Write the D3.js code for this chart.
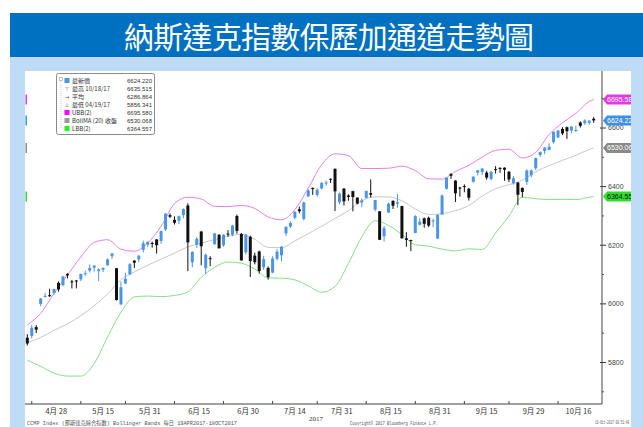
<!DOCTYPE html>
<html>
<head>
<meta charset="utf-8">
<script src="https://cdn.jsdelivr.net/npm/d3@7"></script>
<style>
  body { margin: 0; background: #fff; }
  svg { display: block; }
</style>
</head>
<body>
<div id="chart"></div>
<script>
// chart size
var svgWidth = 643;
var svgHeight = 427;

// trading calendar 19 Apr - 18 Oct 2017 (weekdays minus US market holidays)
var holidays = ["2017-05-29", "2017-07-04", "2017-09-04"];
var fmt = d3.timeFormat("%Y-%m-%d");
var dates = d3.timeDay.range(new Date(2017, 3, 19), new Date(2017, 9, 19))
  .filter(d => d.getDay() > 0 && d.getDay() < 6 && holidays.indexOf(fmt(d)) < 0)
  .map(fmt);

// daily OHLC
var opens = [5883,5889,5919,5998,6024,6028,6035,6070,6062,6100,
  6075,6078,6082,6101,6112,6122,6110,6115,6130,6161,
  6120,5996,6068,6100,6146,6150,6182,6200,6206,6218,
  6213,6252,6301,6285,6282,6301,6334,6140,6200,6245,
  6120,6154,6202,6234,6198,6238,6234,6298,6237,6174,
  6227,6163,6177,6123,6121,6105,6152,6164,6239,6262,
  6292,6321,6288,6365,6394,6370,6392,6412,6425,6459,
  6345,6392,6368,6383,6361,6344,6360,6376,6320,6314,
  6229,6310,6350,6340,6332,6222,6216,6240,6268,6290,
  6292,6280,6221,6303,6391,6441,6419,6395,6400,6391,
  6415,6446,6448,6446,6424,6458,6462,6463,6449,6410,
  6412,6394,6414,6437,6461,6506,6520,6523,6550,6566,
  6595,6601,6590,6588,6617,6615,6616,6630];
var highs = [5895,5926,5926,6018,6036,6050,6050,6075,6094,6103,
  6080,6080,6101,6112,6133,6130,6120,6122,6154,6173,
  6120,6075,6104,6137,6147,6164,6214,6211,6211,6219,
  6248,6308,6307,6297,6299,6324,6341,6178,6226,6247,
  6170,6161,6240,6236,6236,6250,6268,6303,6240,6236,
  6231,6173,6180,6162,6126,6161,6185,6196,6263,6280,
  6315,6330,6347,6389,6395,6392,6414,6419,6426,6460,
  6378,6392,6372,6384,6361,6358,6384,6423,6353,6315,
  6264,6344,6351,6373,6333,6243,6217,6301,6290,6293,
  6296,6289,6304,6371,6430,6444,6420,6398,6406,6394,
  6433,6455,6461,6452,6452,6468,6465,6464,6452,6434,
  6414,6395,6457,6457,6497,6518,6533,6546,6586,6590,
  6601,6603,6604,6606,6621,6628,6624,6635.5];
var lows = [5856.3,5880,5899,5990,6020,6022,6030,6040,6058,6085,
  6051,6051,6076,6094,6105,6108,6076,6107,6129,6152,
  6010,5996,6066,6096,6121,6141,6174,6193,6190,6170,
  6203,6247,6291,6269,6270,6290,6110,6123,6190,6130,
  6100,6127,6200,6187,6193,6227,6229,6238,6146,6167,
  6090,6133,6102,6114,6081,6103,6147,6143,6230,6257,
  6287,6307,6283,6363,6370,6364,6389,6401,6411,6315,
  6338,6334,6350,6314,6338,6328,6357,6361,6314,6216,
  6211,6309,6322,6327,6221,6193,6178,6240,6266,6258,
  6260,6260,6220,6303,6388,6425,6346,6364,6379,6351,
  6412,6436,6438,6422,6420,6443,6445,6418,6414,6405,
  6335,6362,6404,6430,6455,6500,6509,6523,6545,6565,
  6574,6561,6580,6585,6600,6609,6609,6616];
var closes = [5863.0,5916.8,5910.5,6016.7,6025.5,6025.2,6048.9,6047.6,6091.6,6095.4,
  6072.6,6075.3,6100.8,6102.7,6120.6,6129.1,6116.0,6121.2,6149.7,6169.9,
  6011.2,6055.1,6083.7,6133.6,6138.7,6163.0,6205.3,6210.2,6203.2,6198.5,
  6246.8,6305.8,6295.7,6275.1,6297.4,6321.8,6207.9,6175.5,6220.4,6194.9,
  6165.5,6151.8,6239.0,6188.0,6234.0,6236.7,6265.3,6247.2,6146.6,6234.4,
  6144.4,6140.4,6110.1,6150.9,6089.5,6153.1,6176.4,6193.3,6261.2,6274.4,
  6312.5,6314.4,6344.3,6385.0,6390.0,6387.8,6410.8,6412.2,6422.8,6382.2,
  6374.7,6348.1,6362.9,6362.7,6340.3,6351.6,6383.8,6370.5,6352.3,6216.9,
  6256.6,6340.2,6333.0,6345.1,6221.9,6216.5,6213.1,6297.5,6278.4,6271.3,
  6265.6,6283.0,6301.9,6368.3,6428.7,6435.3,6375.6,6393.3,6397.9,6360.2,
  6432.3,6454.3,6460.2,6429.1,6448.5,6454.6,6461.3,6456.0,6422.7,6426.9,
  6370.6,6380.2,6453.3,6453.5,6496.0,6516.7,6531.7,6534.6,6585.4,6590.2,
  6579.7,6587.3,6603.6,6591.5,6605.8,6624.0,6623.7,6624.2];

// bollinger band lines, read every third session
var bandDates = ["2017-04-19","2017-04-24","2017-04-27","2017-05-02","2017-05-05","2017-05-10",
  "2017-05-15","2017-05-18","2017-05-23","2017-05-26","2017-06-01","2017-06-06","2017-06-09",
  "2017-06-14","2017-06-19","2017-06-22","2017-06-27","2017-06-30","2017-07-06","2017-07-11",
  "2017-07-14","2017-07-19","2017-07-24","2017-07-27","2017-08-01","2017-08-04","2017-08-09",
  "2017-08-14","2017-08-17","2017-08-22","2017-08-25","2017-08-30","2017-09-05","2017-09-08",
  "2017-09-13","2017-09-18","2017-09-21","2017-09-26","2017-09-29","2017-10-04","2017-10-09",
  "2017-10-12","2017-10-17","2017-10-18"];
var ubb = [5926,5966,6034,6097,6158,6208,6217,6185,6178,6206,6263,6340,6362,6356,6331,6330,
  6334,6324,6295,6285,6320,6393,6473,6510,6504,6460,6460,6461,6468,6453,6425,6424,6450,6471,
  6499,6522,6526,6496,6515,6576,6616,6648,6689,6695.58];
var bollMA = [5866,5884,5908,5930,5958,5992,6032,6081,6107,6130,6151,6171,6193,6205,6218,6229,
  6236,6219,6191,6190,6213,6238,6263,6290,6316,6350,6364,6363,6350,6322,6303,6306,6316,6334,
  6366,6391,6405,6420,6449,6470,6488,6505,6525,6530.07];
var lbb = [5806,5785,5762,5752,5752,5795,5885,5970,6022,6025,6023,6027,6039,6089,6123,6141,
  6137,6117,6087,6086,6080,6060,6038,6058,6136,6227,6282,6266,6235,6200,6195,6185,6179,6186,
  6184,6240,6298,6362,6357,6354,6355,6354,6362,6364.56];

// axis text
var tickDates = ["2017-04-20","2017-05-05","2017-05-19","2017-06-06","2017-06-21","2017-07-07",
  "2017-07-21","2017-08-07","2017-08-22","2017-09-07","2017-09-21","2017-10-06"];
var tickLabels = ["4月 28","5月 15","5月 31","6月 15","6月 30","7月 14",
  "7月 31","8月 15","8月 31","9月 15","9月 29","10月 16"];
var yMajor = [5800, 6000, 6200, 6400, 6600];
var yMinor = [5700, 5900, 6100, 6300, 6500, 6700];

// legend rows and last-value flags
var legendNames = ["最新價", "最高 10/18/17", "平均", "最低 04/19/17", "UBB(2)", "BollMA (20) 收盤", "LBB(2)"];
var legendValues = ["6624.220", "6635.515", "6286.864", "5856.341", "6695.580", "6530.068", "6364.557"];
var flagValues = [6695.580, 6624.220, 6530.068, 6364.557];

var upColor = "#4a95e6", downColor = "#111";
var ubbColor = "#e67fe6", maColor = "#c8c8c8", lbbColor = "#86e086";
var flagColors = ["#e03ae0", "#3f8fe3", "#8a8a8a", "#2fdc2f"];
var flagText = ["#fff", "#fff", "#fff", "#111"];
var cjk = "'Noto Sans CJK TC', 'Noto Sans', sans-serif";

var svg = d3.select("#chart").append("svg")
  .attr("width", svgWidth)
  .attr("height", svgHeight);

// page frame: title bar, light blue mat, white chart panel
svg.append("rect").attr("x", 10).attr("y", 57).attr("width", 633).attr("height", 370).attr("fill", "#bfdcf6");
svg.append("rect").attr("x", 25).attr("y", 71).attr("width", 606).attr("height", 356).attr("fill", "#fff");
svg.append("rect").attr("x", 10).attr("y", 13).attr("width", 633).attr("height", 44).attr("fill", "#0070c0");
svg.append("text")
  .attr("x", 329).attr("y", 48)
  .attr("text-anchor", "middle")
  .attr("font-family", cjk).attr("font-size", 30)
  .attr("textLength", 410).attr("lengthAdjust", "spacing")
  .attr("fill", "#fff")
  .text("納斯達克指數保歷加通道走勢圖");

// scales
var xScale = d3.scalePoint().domain(dates).range([27.3, 593.7]);
var yScale = d3.scaleLinear().domain([5800, 6600]).range([362, 127.5]);
var plotRight = 602, plotBottom = 404;

// bands
function bandLine(vals) {
  return d3.line()
    .x((d, i) => xScale(bandDates[i]))
    .y(d => yScale(d))
    .curve(d3.curveMonotoneX)(vals);
}
svg.append("path").attr("d", bandLine(bollMA)).attr("fill", "none").attr("stroke", maColor).attr("stroke-width", 1);
svg.append("path").attr("d", bandLine(ubb)).attr("fill", "none").attr("stroke", ubbColor).attr("stroke-width", 1);
svg.append("path").attr("d", bandLine(lbb)).attr("fill", "none").attr("stroke", lbbColor).attr("stroke-width", 1);

// candles
var candles = dates.map((d, i) => ({date: d, o: opens[i], h: highs[i], l: lows[i], c: closes[i]}));
var cg = svg.append("g").selectAll("g").data(candles).enter().append("g");
cg.append("line")
  .attr("x1", d => xScale(d.date)).attr("x2", d => xScale(d.date))
  .attr("y1", d => yScale(d.h)).attr("y2", d => yScale(d.l))
  .attr("stroke", d => d.c >= d.o ? upColor : downColor)
  .attr("stroke-width", 1);
cg.append("rect")
  .attr("x", d => xScale(d.date) - 1.5)
  .attr("width", 3)
  .attr("y", d => yScale(Math.max(d.o, d.c)))
  .attr("height", d => Math.max(1, yScale(Math.min(d.o, d.c)) - yScale(Math.max(d.o, d.c))))
  .attr("fill", d => d.c >= d.o ? upColor : downColor);

// right value axis
var yAxisMajor = d3.axisRight(yScale).tickValues(yMajor).tickSize(4).tickPadding(2).tickFormat(d3.format("d"));
var yAxisMinor = d3.axisRight(yScale).tickValues(yMinor).tickSize(2).tickFormat("");
var ya = svg.append("g").attr("transform", `translate(${plotRight},0)`).call(yAxisMajor);
ya.select(".domain").remove();
ya.selectAll("line").attr("x1", -2).attr("stroke", "#333");
ya.selectAll("text").attr("font-family", "'Liberation Sans', sans-serif").attr("font-size", 7).attr("fill", "#444");
var ym = svg.append("g").attr("transform", `translate(${plotRight},0)`).call(yAxisMinor);
ym.select(".domain").remove();
ym.selectAll("line").attr("stroke", "#555");
svg.append("line").attr("x1", plotRight).attr("x2", plotRight).attr("y1", 71).attr("y2", plotBottom)
  .attr("stroke", "#444").attr("stroke-width", 1);

// bottom axis with half-month ticks and labels centred between them
svg.append("line").attr("x1", 25).attr("x2", plotRight).attr("y1", plotBottom).attr("y2", plotBottom)
  .attr("stroke", "#444").attr("stroke-width", 1);
svg.append("g").selectAll("line").data(tickDates).enter().append("line")
  .attr("x1", d => xScale(d)).attr("x2", d => xScale(d))
  .attr("y1", plotBottom - 3).attr("y2", plotBottom)
  .attr("stroke", "#444");
var tickX = tickDates.map(d => xScale(d)).concat([xScale(dates[dates.length - 1]) + xScale.step() * 1.2]);
svg.append("g").selectAll("text").data(tickLabels).enter().append("text")
  .attr("x", (d, i) => (tickX[i] + tickX[i + 1]) / 2)
  .attr("y", 414)
  .attr("text-anchor", "middle")
  .attr("font-family", cjk).attr("font-size", 7.5).attr("fill", "#333")
  .text(d => d);
svg.append("text").attr("x", 316).attr("y", 421).attr("text-anchor", "middle")
  .attr("font-family", "'Liberation Serif', serif").attr("font-size", 7).attr("fill", "#333").text("2017");

// last-value flags on the right axis
flagValues.forEach(function(v, i) {
  var yy = yScale(v);
  svg.append("path")
    .attr("d", `M${plotRight + 1},${yy} L${plotRight + 5},${yy - 5} L${svgWidth},${yy - 5} L${svgWidth},${yy + 5} L${plotRight + 5},${yy + 5} Z`)
    .attr("fill", flagColors[i]);
  svg.append("text").attr("x", plotRight + 5).attr("y", yy + 2.5)
    .attr("font-family", "'Liberation Sans', sans-serif").attr("font-size", 7)
    .attr("fill", flagText[i]).text(v.toFixed(3));
  // matching marker at the left edge
  svg.append("rect").attr("x", 25.5).attr("y", yy - 5).attr("width", 1.5).attr("height", 10).attr("fill", flagColors[i]);
});

// right mat strip sits over the flags
svg.append("rect").attr("x", 631).attr("y", 57).attr("width", 12).attr("height", 370).attr("fill", "#bfdcf6");

// legend box
var lg = svg.append("g");
lg.append("rect").attr("x", 56.5).attr("y", 73.5).attr("width", 98).attr("height", 61).attr("rx", 2)
  .attr("fill", "#fff").attr("stroke", "#8a8a8a");
lg.append("rect").attr("x", 59.5).attr("y", 77.5).attr("width", 3).attr("height", 3).attr("fill", "none").attr("stroke", "#999").attr("stroke-width", 0.6);
lg.append("line").attr("x1", 61).attr("x2", 61).attr("y1", 81).attr("y2", 128)
  .attr("stroke", "#aaa").attr("stroke-dasharray", "1,1").attr("stroke-width", 0.6);
var swatches = [upColor, null, null, null, "#ff00ff", "#999", "#22ee22"];
var marks = ["", "⊤", "→", "⊥", "", "", ""];
legendNames.forEach(function(name, i) {
  var ry = 80.5 + i * 8;
  if (swatches[i]) {
    lg.append("rect").attr("x", 64.5).attr("y", ry - 2.5).attr("width", 5).attr("height", 5).attr("fill", swatches[i]);
  } else {
    lg.append("text").attr("x", 67).attr("y", ry + 2.2).attr("text-anchor", "middle")
      .attr("font-family", "'DejaVu Sans', sans-serif").attr("font-size", 5.5).attr("fill", "#555").text(marks[i]);
  }
  lg.append("text").attr("x", 72).attr("y", ry + 2.2)
    .attr("font-family", cjk).attr("font-size", 6).attr("fill", "#333").text(name);
  lg.append("text").attr("x", 152).attr("y", ry + 2.2).attr("text-anchor", "end")
    .attr("font-family", "'Liberation Sans Narrow', 'Liberation Sans', sans-serif").attr("font-size", 6)
    .attr("fill", "#333").text(legendValues[i]);
});

// footer
svg.append("text").attr("x", 27).attr("y", 425)
  .attr("font-family", "'Liberation Mono', " + cjk).attr("font-size", 5.5).attr("fill", "#555")
  .attr("textLength", 210).attr("lengthAdjust", "spacingAndGlyphs")
  .text("CCMP Index (那斯達克綜合指數) Bollinger Bands  每日 19APR2017-18OCT2017");
svg.append("text").attr("x", 350).attr("y", 425)
  .attr("font-family", "'Liberation Mono', monospace").attr("font-size", 5.5).attr("fill", "#555")
  .attr("textLength", 88).attr("lengthAdjust", "spacingAndGlyphs")
  .text("Copyright© 2017 Bloomberg Finance L.P.");
// timestamp squeezed horizontally so it stays inside the panel
svg.append("text")
  .attr("transform", "translate(595,424) scale(0.52,1)")
  .attr("font-family", "'Liberation Mono', monospace").attr("font-size", 5.5).attr("fill", "#555")
  .text("19-Oct-2017 08:51:48");
</script>
</body>
</html>
